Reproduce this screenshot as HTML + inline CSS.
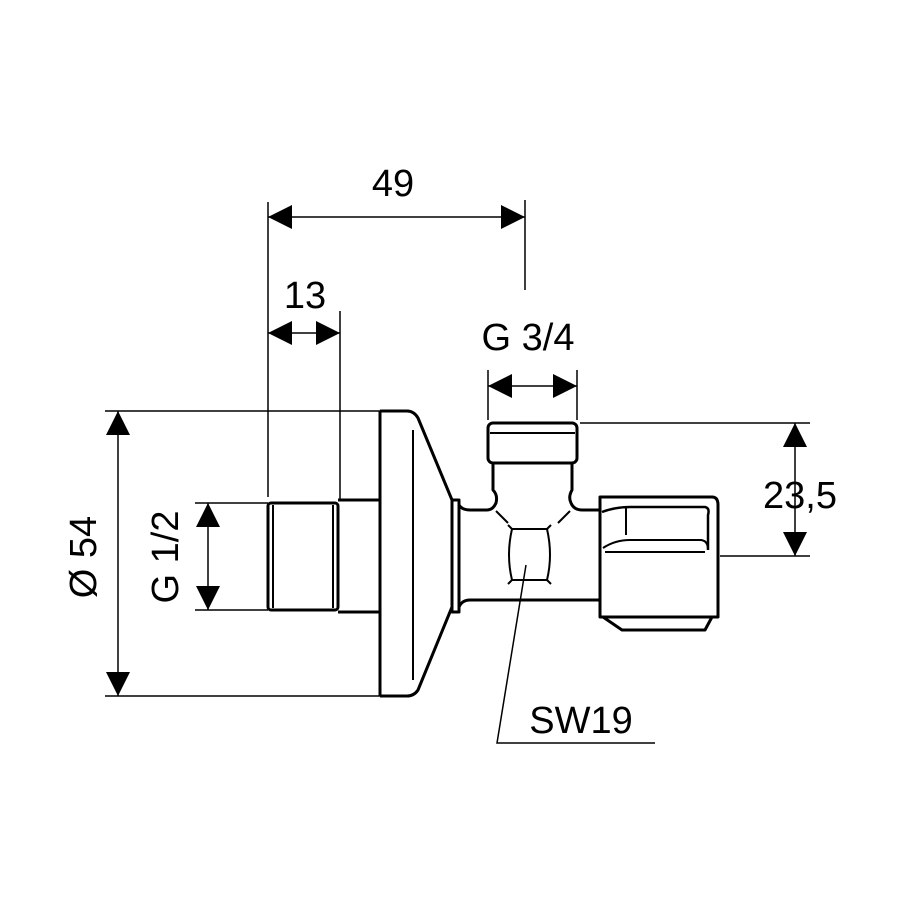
<!DOCTYPE html>
<html><head><style>html,body{margin:0;padding:0;background:#fff}svg{display:block}</style></head>
<body>
<svg width="900" height="900" viewBox="0 0 900 900" xmlns="http://www.w3.org/2000/svg">
<defs>
<marker id="b" viewBox="0 0 24 24" refX="24" refY="12" markerWidth="24" markerHeight="24" markerUnits="userSpaceOnUse" orient="auto-start-reverse"><path d="M0,0 L24,12 L0,24 z" fill="#000"/></marker>
</defs>
<g stroke="#000" stroke-width="1.5" fill="none">
<line x1="268" y1="202" x2="268" y2="497"/>
<line x1="525" y1="200" x2="525" y2="290"/>
<line x1="340" y1="311" x2="340" y2="500"/>
<line x1="488" y1="370" x2="488" y2="420"/>
<line x1="577" y1="370" x2="577" y2="420"/>
<line x1="580" y1="423" x2="810" y2="423"/>
<line x1="720" y1="556" x2="810" y2="556"/>
<line x1="105" y1="411" x2="385" y2="411"/>
<line x1="105" y1="696" x2="385" y2="696"/>
<line x1="195" y1="503" x2="268" y2="503"/>
<line x1="195" y1="610" x2="268" y2="610"/>
<line x1="268" y1="217" x2="525" y2="217" marker-start="url(#b)" marker-end="url(#b)"/>
<line x1="268" y1="333" x2="340" y2="333" marker-start="url(#b)" marker-end="url(#b)"/>
<line x1="488" y1="386" x2="577" y2="386" marker-start="url(#b)" marker-end="url(#b)"/>
<line x1="795" y1="423" x2="795" y2="556" marker-start="url(#b)" marker-end="url(#b)"/>
<line x1="208" y1="503" x2="208" y2="610" marker-start="url(#b)" marker-end="url(#b)"/>
<line x1="118" y1="411" x2="118" y2="696" marker-start="url(#b)" marker-end="url(#b)"/>
<polyline points="526,565 497,743 655,743"/>
</g>
<g stroke="#000" stroke-width="3" fill="none" stroke-linejoin="round">
<rect x="268" y="503" width="70" height="107" rx="3"/>
<line x1="273" y1="505" x2="273" y2="608" stroke-width="2"/>
<line x1="333" y1="505" x2="333" y2="608" stroke-width="2"/>
<path d="M338,500 H380 M338,612 H380"/>
<path d="M380,411 H407 Q414,411 418,418 L452,500"/>
<path d="M452,607 L418,690 Q414,696 407,696 H380"/>
<line x1="380" y1="411" x2="380" y2="696"/>
<line x1="413" y1="430" x2="413" y2="680" stroke-width="2"/>
<rect x="452" y="500" width="7" height="112"/>
<path d="M459,505 Q462,510 470,510 H487 Q493,510 496,503 Q498,495 493,490 V463"/>
<path d="M572,463 V490 Q568,497 571,503 Q574,510 582,510 H600"/>
<path d="M459,607 Q462,600 470,600 H600"/>
<rect x="488" y="423" width="89" height="40" rx="5"/>
<line x1="490" y1="433" x2="575" y2="433" stroke-width="2"/>
<path d="M496,511 L508,523 M570,511 L558,523" stroke-width="2"/>
<path d="M512,529 H547 Q553,555 547,580 H512 Q506,555 512,529 Z" stroke-width="2"/>
<path d="M508,525 L512,529 M551,525 L547,529 M508,584 L512,580 M551,584 L547,580" stroke-width="2"/>
<path d="M600,497 H712 Q718,497 718,505 V617 H600 Z"/>
<path d="M603,617 L622,630 H705 L712,617"/>
<path d="M602,512 Q615,507 630,507 H705 Q710,508 708,515 V550" stroke-width="2.5"/>
<line x1="626" y1="508" x2="626" y2="535" stroke-width="2"/>
<path d="M603,548 Q615,540 630,540 H700 Q708,540 708,550" stroke-width="2"/>
<line x1="605" y1="552" x2="705" y2="552" stroke-width="2"/>
</g>
<g font-family="Liberation Sans, sans-serif" font-size="38" fill="#000">
<text x="393" y="196" text-anchor="middle">49</text>
<text x="305" y="308" text-anchor="middle">13</text>
<text x="528" y="350" text-anchor="middle">G 3/4</text>
<text x="800" y="508" text-anchor="middle">23,5</text>
<text x="581" y="733" text-anchor="middle">SW19</text>
<text transform="translate(178,557) rotate(-90)" text-anchor="middle">G 1/2</text>
<text transform="translate(96,557) rotate(-90)" text-anchor="middle">Ø 54</text>
</g>
</svg>
</body></html>
